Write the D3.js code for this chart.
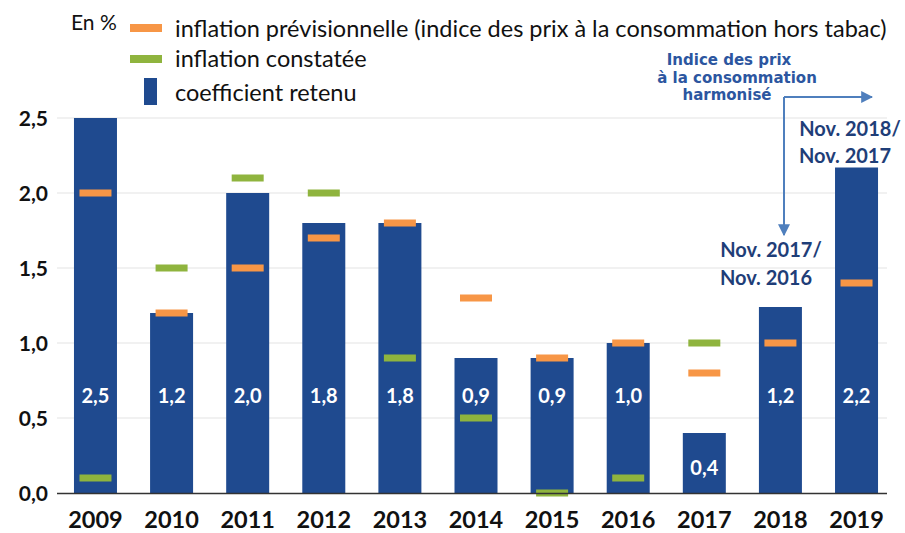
<!DOCTYPE html>
<html><head><meta charset="utf-8">
<script src="https://cdn.jsdelivr.net/npm/d3@7"></script>
<style>body{margin:0;background:#fff}svg{display:block}text{font-family:Lato,"Open Sans",sans-serif}text.ann{font-family:"DejaVu Sans",sans-serif}</style>
</head><body><svg id="c" width="905" height="533"></svg>
<script>
const years = ["2009","2010","2011","2012","2013","2014","2015","2016","2017","2018","2019"];
const coefficient = [2.5,1.2,2.0,1.8,1.8,0.9,0.9,1.0,0.4,1.24,2.17];
const coefficientLabels = ["2,5","1,2","2,0","1,8","1,8","0,9","0,9","1,0","0,4","1,2","2,2"];
const forecast = [2.0,1.2,1.5,1.7,1.8,1.3,0.9,1.0,0.8,1.0,1.4];
const observed = [0.1,1.5,2.1,2.0,0.9,0.5,0.0,0.1,1.0,null,null];
const yTicks = [0,0.5,1.0,1.5,2.0,2.5];

const svg = d3.select("#c");
const blue="#1f4a8f", orange="#f79646", green="#8fb43e", annBlue="#2c56a0", arrowBlue="#4f7fbd";
const x = d3.scaleBand().domain(years).range([57,895]).paddingInner(0.435).paddingOuter(0.223);
const y = d3.scaleLinear().domain([0,2.5]).range([493,118]);
const fmt = d => d3.format(".1f")(d).replace(".",",");

// grid
svg.append("g").selectAll("line").data(yTicks.slice(1)).join("line")
  .attr("x1",57).attr("x2",887).attr("y1",d=>y(d)).attr("y2",d=>y(d))
  .attr("stroke","#ececec").attr("stroke-width",1.5);

// y axis labels
const ya = svg.append("g").attr("transform","translate(48,0)")
  .call(d3.axisLeft(y).tickValues(yTicks).tickFormat(fmt).tickSize(0).tickPadding(0));
ya.select(".domain").remove();
ya.selectAll("text").attr("font-size",21).attr("font-weight","bold").attr("fill","#111").attr("dy","0.36em");

// bars
svg.append("g").selectAll("rect").data(years).join("rect")
  .attr("x",d=>x(d)).attr("width",x.bandwidth())
  .attr("y",(d,i)=>y(coefficient[i])).attr("height",(d,i)=>y(0)-y(coefficient[i]))
  .attr("fill",blue);

// markers
const mw = 32, mh = 7;
function markers(vals,color){
  svg.append("g").selectAll("rect").data(years.filter((d,i)=>vals[i]!=null)).join("rect")
    .attr("x",d=>x(d)+x.bandwidth()/2-mw/2).attr("width",mw)
    .attr("y",d=>y(vals[years.indexOf(d)])-mh/2).attr("height",mh)
    .attr("fill",color);
}
markers(observed,green);
markers(forecast,orange);

// x axis
const xa = svg.append("g").attr("transform","translate(0,493)")
  .call(d3.axisBottom(x).tickSize(0).tickPadding(0));
xa.select(".domain").remove();
svg.append("line").attr("x1",57).attr("x2",887).attr("y1",493.5).attr("y2",493.5).attr("stroke","#333").attr("stroke-width",1.5);
xa.selectAll("text").attr("font-size",23.5).attr("font-weight","bold").attr("fill","#111")
  .attr("y",35).attr("dy",null);

// data labels
svg.append("g").selectAll("text").data(years).join("text")
  .attr("x",d=>x(d)+x.bandwidth()/2)
  .attr("y",(d,i)=> coefficient[i] < 0.6 ? y(coefficient[i]/2)+12 : y(0.65)+7)
  .attr("text-anchor","middle").attr("font-size",20).attr("font-weight","bold").attr("fill","#fff")
  .text((d,i)=>coefficientLabels[i]);

// legend
const lg = svg.append("g");
lg.append("text").attr("x",71).attr("y",30).attr("font-size",21).attr("fill","#111").text("En %");
lg.append("rect").attr("x",130).attr("y",24).attr("width",32).attr("height",8).attr("fill",orange);
lg.append("text").attr("x",175).attr("y",37).attr("font-size",23.5).attr("fill","#111").text("inflation prévisionnelle (indice des prix à la consommation hors tabac)");
lg.append("rect").attr("x",130).attr("y",55).attr("width",32).attr("height",8).attr("fill",green);
lg.append("text").attr("x",175).attr("y",67).attr("font-size",23.5).attr("fill","#111").text("inflation constatée");
lg.append("rect").attr("x",144).attr("y",78).attr("width",13).attr("height",27).attr("fill",blue);
lg.append("text").attr("x",175).attr("y",101).attr("font-size",23.5).attr("fill","#111").text("coefficient retenu");

// annotation
const defs = svg.append("defs");
defs.append("marker").attr("id","ah").attr("viewBox","0 0 10 10").attr("refX",9).attr("refY",5)
  .attr("markerWidth",6).attr("markerHeight",6).attr("orient","auto")
  .append("path").attr("d","M0,0L10,5L0,10z").attr("fill",arrowBlue);
const ann = svg.append("g").attr("font-weight","bold").attr("fill",annBlue).attr("font-size",15)
  .attr("text-anchor","middle");
[["Indice des prix",729,65],["à la consommation",737,82.5],["harmonisé",727,100]].forEach(([t,xx,yy])=>
  ann.append("text").attr("class","ann").attr("x",xx).attr("y",yy).text(t));
svg.append("path").attr("d","M784,97H872").attr("stroke",arrowBlue).attr("stroke-width",2).attr("fill","none").attr("marker-end","url(#ah)");
svg.append("path").attr("d","M784,97V235").attr("stroke",arrowBlue).attr("stroke-width",2).attr("fill","none").attr("marker-end","url(#ah)");
const nv = svg.append("g").attr("font-weight","bold").attr("fill","#1f3e78").attr("font-size",20).attr("text-anchor","middle");
nv.append("text").attr("x",850).attr("y",136).text("Nov. 2018/");
nv.append("text").attr("x",845).attr("y",163).text("Nov. 2017");
nv.append("text").attr("x",771).attr("y",257).text("Nov. 2017/");
nv.append("text").attr("x",766).attr("y",285).text("Nov. 2016");
</script></body></html>
